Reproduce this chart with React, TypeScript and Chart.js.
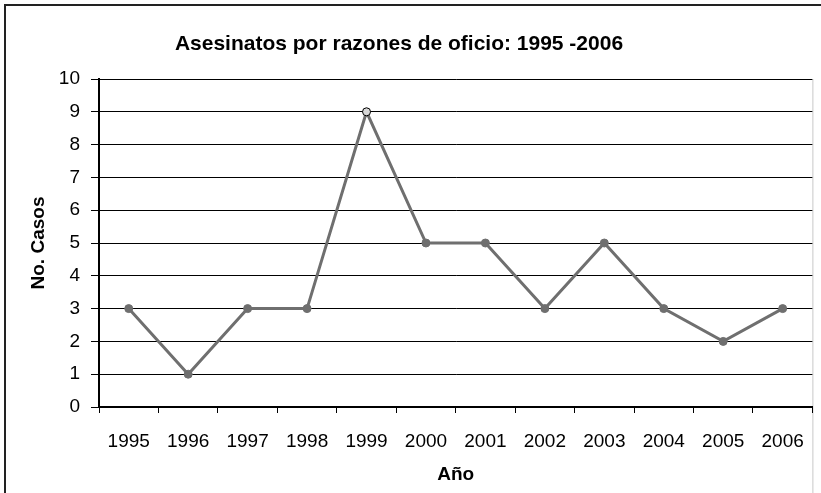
import React, { useEffect, useRef } from 'react';
import { Chart, registerables } from 'chart.js';

Chart.register(...registerables);

const years = ['1995', '1996', '1997', '1998', '1999', '2000', '2001', '2002', '2003', '2004', '2005', '2006'];
const cases = [3, 1, 3, 3, 9, 5, 5, 3, 5, 3, 2, 3];
const yMin = 0;
const yMax = 10;
const yStep = 1;
const chartTitle = 'Asesinatos por razones de oficio: 1995 -2006';
const xTitle = 'Año';
const yTitle = 'No. Casos';
const hollowIndex = 4;

const FONT = 'Arial, "Liberation Sans", Helvetica, sans-serif';

const framePlugin = {
  id: 'frame',
  beforeDraw(chart: any) {
    const { ctx, width, height, chartArea } = chart;
    ctx.save();
    ctx.fillStyle = '#ffffff';
    ctx.fillRect(0, 0, width, height);
    ctx.strokeStyle = '#222222';
    ctx.lineWidth = 2;
    ctx.strokeRect(5, 5, width + 20, height + 20);
    ctx.strokeStyle = '#c8c8c8';
    ctx.lineWidth = 1;
    ctx.beginPath();
    ctx.moveTo(chartArea.right + 0.5, chartArea.top);
    ctx.lineTo(chartArea.right + 0.5, height);
    ctx.stroke();
    ctx.restore();
  },
  afterDraw(chart: any) {
    const { ctx } = chart;
    ctx.save();
    ctx.fillStyle = '#000000';
    ctx.font = `bold 21px ${FONT}`;
    ctx.textAlign = 'center';
    ctx.textBaseline = 'alphabetic';
    ctx.fillText(chartTitle, 399, 50);
    ctx.restore();
  },
};

export default function App() {
  const ref = useRef<HTMLCanvasElement | null>(null);

  useEffect(() => {
    document.body.style.margin = '0';
    const canvas = ref.current;
    if (!canvas) return;
    const chart = new Chart(canvas, {
      type: 'line',
      data: {
        labels: years,
        datasets: [
          {
            label: yTitle,
            data: cases,
            borderColor: '#6f6f6f',
            borderWidth: 3,
            tension: 0,
            pointRadius: 4,
            pointBackgroundColor: cases.map((_, i) => (i === hollowIndex ? '#d8d8d8' : '#6f6f6f')),
            pointBorderColor: cases.map((_, i) => (i === hollowIndex ? '#000000' : '#6f6f6f')),
            pointBorderWidth: 1,
          },
        ],
      },
      options: {
        responsive: false,
        animation: false,
        devicePixelRatio: 1,
        layout: { padding: { top: 79, right: 1, bottom: 0, left: 0 } },
        plugins: {
          legend: { display: false },
          title: { display: false },
          tooltip: { enabled: false },
        },
        scales: {
          x: {
            type: 'category',
            offset: true,
            grid: {
              offset: true,
              drawOnChartArea: false,
              tickLength: 6,
              color: '#000000',
              lineWidth: 1,
            },
            border: { color: '#000000', width: 2 },
            ticks: {
              color: '#000000',
              font: { family: FONT, size: 19 },
              padding: 17,
              maxRotation: 0,
              autoSkip: false,
            },
            title: {
              display: true,
              text: xTitle,
              color: '#000000',
              font: { family: FONT, size: 19, weight: 'bold' },
              padding: { top: 4, bottom: 7 },
            },
            afterFit(scale: any) {
              scale.height = 86;
            },
          },
          y: {
            min: yMin,
            max: yMax,
            grid: {
              color: '#000000',
              lineWidth: 1,
              tickLength: 8,
            },
            border: { color: '#000000', width: 2 },
            ticks: {
              stepSize: yStep,
              color: '#000000',
              font: { family: FONT, size: 19 },
              padding: 11,
            },
            title: {
              display: true,
              text: yTitle,
              color: '#000000',
              font: { family: FONT, size: 19, weight: 'bold' },
              padding: { top: 27, bottom: 4 },
            },
            afterFit(scale: any) {
              scale.width = 99;
            },
          },
        },
      },
      plugins: [framePlugin],
    });
    return () => chart.destroy();
  }, []);

  return (
    <div style={{ width: 821, height: 493 }}>
      <canvas ref={ref} width={821} height={493} style={{ display: 'block' }} />
    </div>
  );
}
